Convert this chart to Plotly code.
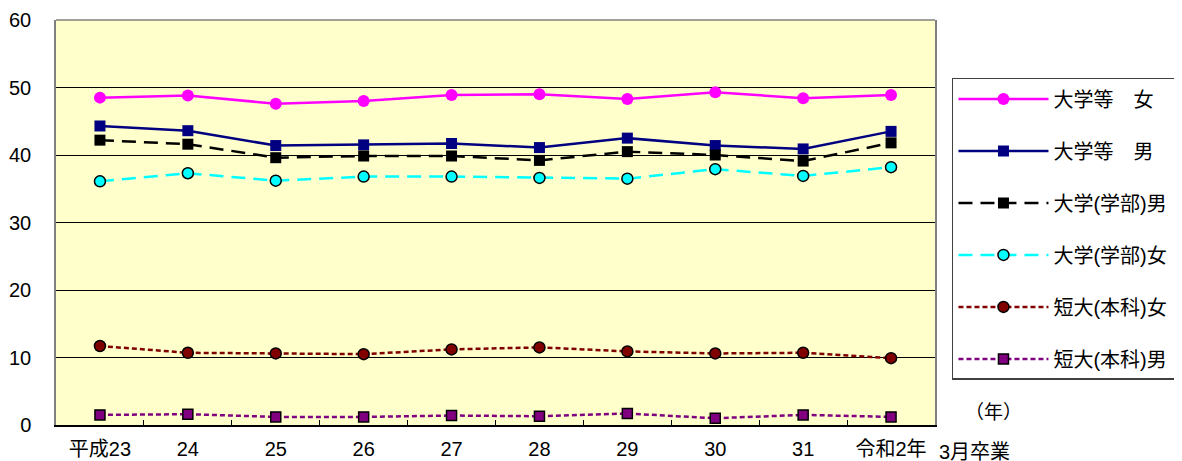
import plotly.graph_objects as go

categories = ["平成23", "24", "25", "26", "27", "28", "29", "30", "31", "令和2年"]

univ_all_f = [48.5, 48.8, 47.6, 48.0, 48.9, 49.0, 48.3, 49.3, 48.4, 48.9]
univ_all_m = [44.3, 43.6, 41.4, 41.5, 41.7, 41.1, 42.5, 41.4, 40.9, 43.5]
univ_ug_m = [42.2, 41.6, 39.6, 39.85, 39.85, 39.2, 40.5, 40.0, 39.1, 41.8]
univ_ug_f = [36.1, 37.3, 36.2, 36.8, 36.8, 36.6, 36.5, 37.9, 36.9, 38.2]
jc_f = [11.7, 10.7, 10.6, 10.5, 11.2, 11.5, 10.9, 10.6, 10.7, 9.9]
jc_m = [1.5, 1.6, 1.2, 1.2, 1.4, 1.3, 1.7, 1.0, 1.5, 1.2]

series_names = ["大学等　女", "大学等　男", "大学(学部)男", "大学(学部)女", "短大(本科)女", "短大(本科)男"]

FONT = "Liberation Sans, Arial, Noto Sans CJK JP, sans-serif"
PAD = "\u00a0" * 2

fig = go.Figure()

styles = [
    (univ_all_f, dict(color="#FF00FF", width=2.5, dash="solid"),
     dict(symbol="circle", size=12, color="#FF00FF", line=dict(width=0))),
    (univ_all_m, dict(color="#000080", width=2.5, dash="solid"),
     dict(symbol="square", size=11, color="#000080", line=dict(width=0))),
    (univ_ug_m, dict(color="#000000", width=2.5, dash="14px,8px"),
     dict(symbol="square", size=11, color="#000000", line=dict(width=0))),
    (univ_ug_f, dict(color="#00FFFF", width=2.5, dash="14px,8px"),
     dict(symbol="circle", size=11, color="#00FFFF", line=dict(width=1.5, color="#000000"))),
    (jc_f, dict(color="#800000", width=2.5, dash="5px,3px"),
     dict(symbol="circle", size=11, color="#800000", line=dict(width=1.5, color="#000000"))),
    (jc_m, dict(color="#800080", width=2.5, dash="5px,3px"),
     dict(symbol="square", size=10, color="#800080", line=dict(width=1.5, color="#000000"))),
]

for i, (vals, ln, mk) in enumerate(styles):
    fig.add_trace(go.Scatter(
        x=categories, y=vals, mode="lines+markers", name=series_names[i] + PAD,
        line=ln, marker=mk, legendgroup=f"g{i}",
    ))

# page body has an 8px margin, so the plot area is placed 8px up/left
fig.update_layout(
    width=1182, height=461,
    margin=dict(l=48, r=255, t=12, b=44, autoexpand=False),
    paper_bgcolor="white",
    plot_bgcolor="#FFFFCC",
    font=dict(family=FONT, size=20, color="#000000"),
    legend=dict(
        x=1.0193, xanchor="left", y=0.857, yanchor="top",
        bordercolor="#404040", borderwidth=1.5, bgcolor="white",
        font=dict(size=20, family=FONT), tracegroupgap=23, itemwidth=90,
    ),
    showlegend=True,
)

fig.update_xaxes(
    type="category", categoryorder="array", categoryarray=categories,
    range=[-0.5, 9.5], tickson="boundaries", ticks="inside", ticklen=5,
    tickcolor="#000000", showline=True, linecolor="#000000", linewidth=1.5,
    showgrid=False, tickfont=dict(size=20), ticklabelstandoff=5,
)
fig.update_yaxes(
    range=[0, 60], dtick=10, showgrid=True, gridcolor="#000000", gridwidth=1,
    showline=True, linecolor="#808080", linewidth=1.5, mirror=True,
    zeroline=False, ticks="", tickfont=dict(size=20), ticklabelstandoff=19,
)

fig.add_shape(type="line", xref="paper", yref="paper", x0=0, x1=1, y0=1, y1=1,
              line=dict(color="#808080", width=1.5))

fig.add_annotation(text="3月卒業", xref="paper", yref="paper", x=1.0023, y=-0.066,
                   xanchor="left", yanchor="middle", showarrow=False, font=dict(size=20))
fig.add_annotation(text="（年）", xref="paper", yref="paper", x=1.066, y=0.032,
                   xanchor="center", yanchor="middle", showarrow=False, font=dict(size=19))

fig.write_html("out.html")
